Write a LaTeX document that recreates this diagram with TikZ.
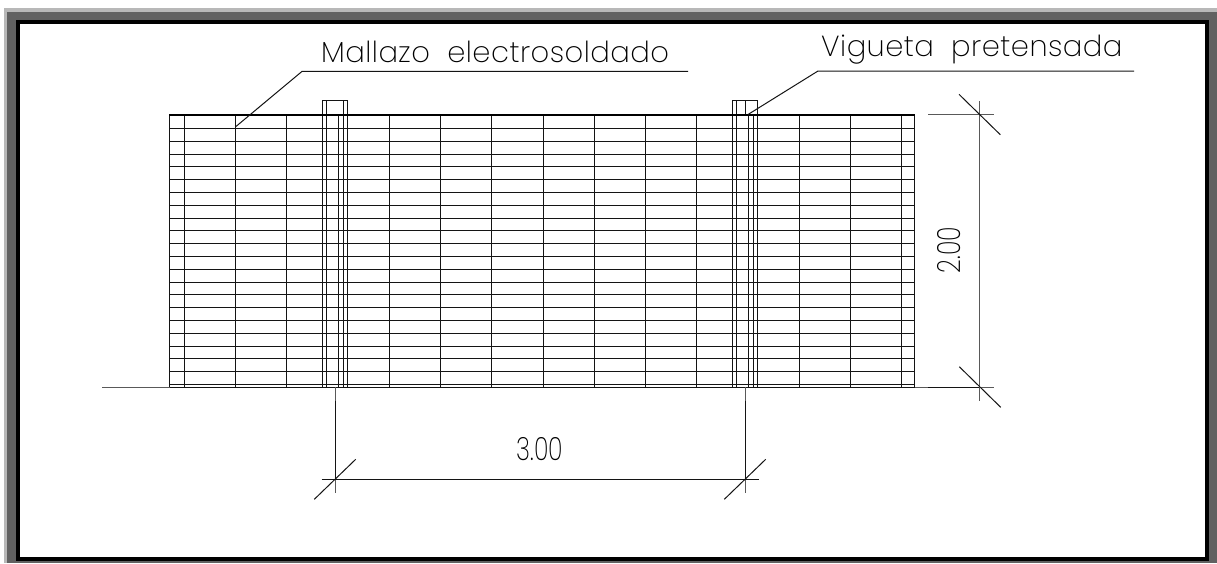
\documentclass[tikz,border=0pt]{standalone}
\usepackage{fontspec}
\setmainfont{Poppins ExtraLight}[LetterSpace=1.6]
\newfontfamily\numfont{Poppins ExtraLight}
\tikzset{
  ln/.style={line width=1pt,draw=black!92},
  gr/.style={line width=1pt,draw=black!65},
  lab/.style={inner sep=0pt,anchor=base west,text=black,font=\fontsize{29}{29}\selectfont},
  numlab/.style={inner sep=0pt,anchor=base,text=black,font=\fontsize{32}{32}\selectfont\numfont}
}
\begin{document}
\begin{tikzpicture}[x=1pt,y=-1pt]
\useasboundingbox (0,0) rectangle (1217,563);
\fill[white] (0,0) rectangle (1217,563);
\fill[black!28] (4,8) rectangle (1217,563);
\fill[black!62] (7,12) rectangle (1217,563);
\fill[black] (16,20) rectangle (1209,561);
\fill[white] (20,24) rectangle (1205,557);
% horizontals
\foreach \k in {1,...,21}{
  \pgfmathsetmacro{\yy}{115.7+12.8*\k}
  \draw[ln] (170,\yy) -- (915,\yy);
}
% mesh verticals
\foreach \x in {169.6,184,235.5,286.75,338,389.25,440.5,491.75,543,594.25,645.5,696.75,748,799.25,850.5,901.75,914.5}{
  \draw[ln] (\x,115) -- (\x,387);
}
% joists
\draw[ln] (322.7,387) -- (322.7,100.7) -- (347.5,100.7) -- (347.5,387);
\draw[ln] (326.7,100.7) -- (326.7,387);
\draw[ln] (343,100.7) -- (343,387);
\draw[ln] (732.7,387) -- (732.7,100.7) -- (757.5,100.7) -- (757.5,387);
\draw[ln] (736.7,100.7) -- (736.7,387);
\draw[ln] (745,100.7) -- (745,114.7);
\draw[ln] (753,114.7) -- (753,387);
% top and ground
\draw[line width=2pt,black] (169,115) -- (915,115);
\draw[gr] (102,387) -- (170,387);
\draw[ln] (170,387) -- (915,387);
\draw[gr] (915,387) -- (928,387);
% leaders
\coordinate (m0) at (235.7,126.7);
\coordinate (m1) at (302,71.4);
\coordinate (m2) at (688,71.4);
\draw[ln] (m0) -- (m1) -- (m2);
\coordinate (v0) at (748,114.5);
\coordinate (v1) at (818,71);
\coordinate (v2) at (1134,71);
\draw[ln] (v0) -- (v1) -- (v2);
% labels
\node[lab] (t1) at (321,62.7) {Mallazo\hspace{0.3em} electrosoldado};
\node[lab] (t2) at (821,56) {Vigueta\hspace{0.3em} pretensada};
% dims
\draw[gr] (928,114.7) -- (993.7,114.7);
\draw[gr] (980,387) -- (993.7,387);
\draw[ln] (928,387) -- (980,387);
\draw[gr] (979.7,101) -- (979.7,400.7);
\draw[ln] (959,94.3) -- (1000.3,134.7);
\draw[ln] (959.3,366.7) -- (1000.7,407.3);
\draw[gr] (335,387) -- (335,492.7);
\draw[gr] (745,387) -- (745,492.7);
\draw[ln] (335,400.7) -- (335,479.3);
\draw[ln] (745,400.7) -- (745,479.3);
\draw[ln] (321.7,479.3) -- (759,479.3);
\draw[ln] (314.3,499.3) -- (355.7,459.3);
\draw[ln] (724.3,499.3) -- (765.7,459.3);
\node[numlab] (d1) at (540,460) {\scalebox{0.75}[1]{3.00}};
\node[numlab,rotate=90] (d2) at (960.7,250) {\scalebox{0.75}[1]{2.00}};
\end{tikzpicture}
\end{document}
